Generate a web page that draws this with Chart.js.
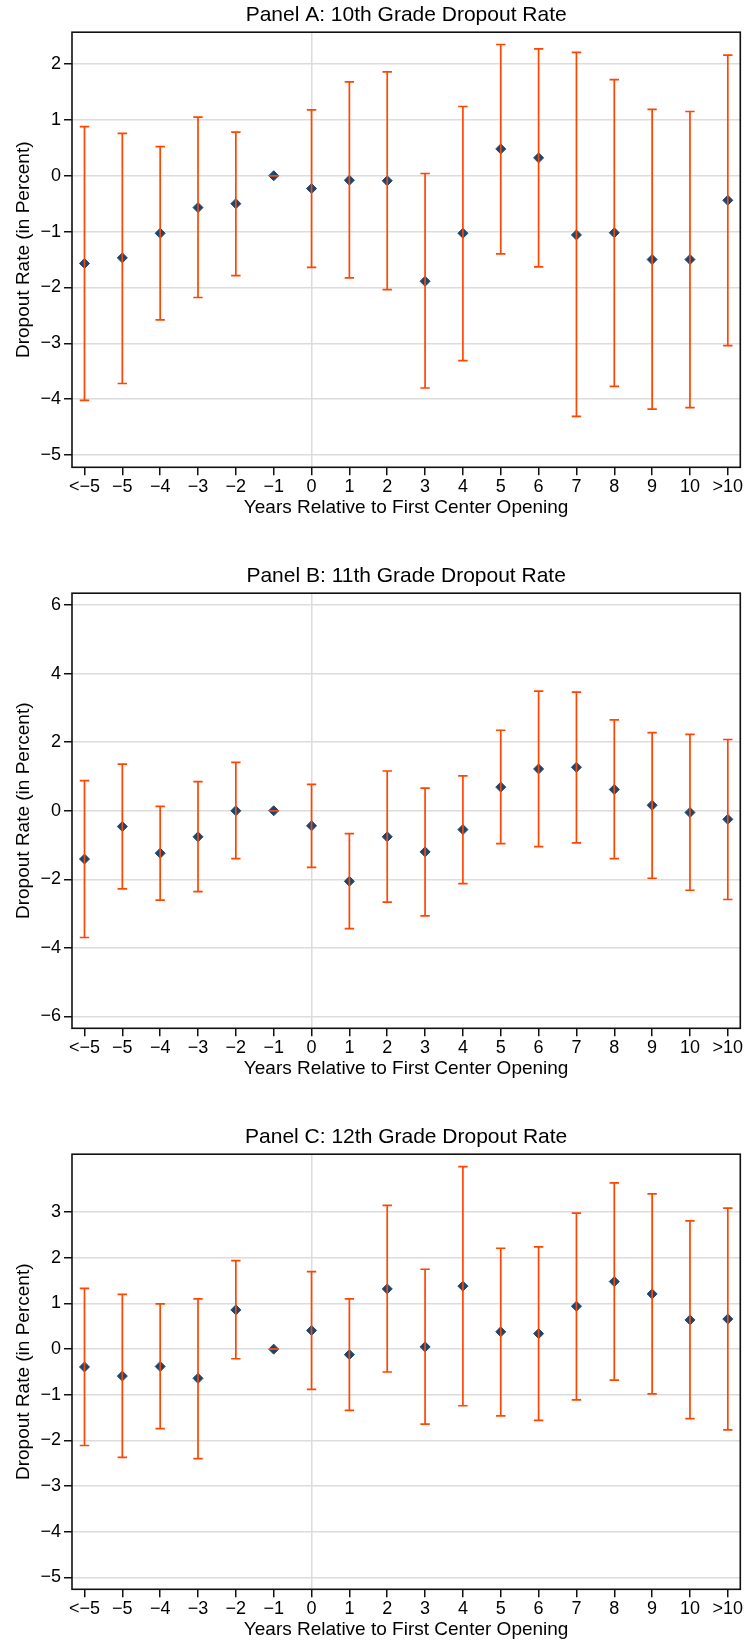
<!DOCTYPE html>
<html lang="en">
<head>
  <meta charset="UTF-8">
  <title>Dropout Rate Event Study</title>
  <script src="https://cdn.jsdelivr.net/npm/chart.js"></script>
  <style>
    body { margin: 0; background: #fff; overflow: hidden; }
    .panel { position: absolute; left: 0; }
  </style>
</head>
<body>
  <div class="panel" style="top:0px"><canvas id="panelA" width="747" height="520"></canvas></div>
  <div class="panel" style="top:561px"><canvas id="panelB" width="747" height="520"></canvas></div>
  <div class="panel" style="top:1122px"><canvas id="panelC" width="747" height="520"></canvas></div>

  <script>
    // event time categories (x axis)
    const xLabels = ['<\u22125', '\u22125', '\u22124', '\u22123', '\u22122', '\u22121', '0', '1', '2', '3', '4', '5', '6', '7', '8', '9', '10', '>10'];

    // Panel A: 10th grade
    const tenthEst  = [-1.57, -1.47, -1.03, -0.57, -0.50, 0, -0.23, -0.08, -0.09, -1.89, -1.03, 0.48, 0.32, -1.06, -1.02, -1.50, -1.50, -0.44];
    const tenthLow  = [-4.02, -3.72, -2.58, -2.18, -1.79, 0, -1.64, -1.83, -2.04, -3.80, -3.31, -1.40, -1.63, -4.31, -3.77, -4.18, -4.15, -3.04];
    const tenthHigh = [0.88, 0.76, 0.52, 1.05, 0.78, 0, 1.18, 1.68, 1.86, 0.04, 1.24, 2.35, 2.27, 2.21, 1.72, 1.19, 1.15, 2.16];
    const tenthTicks = [-5, -4, -3, -2, -1, 0, 1, 2];

    // Panel B: 11th grade
    const eleventhEst  = [-1.41, -0.46, -1.24, -0.76, 0.00, 0, -0.44, -2.06, -0.76, -1.20, -0.55, 0.69, 1.22, 1.27, 0.62, 0.16, -0.05, -0.25];
    const eleventhLow  = [-3.70, -2.28, -2.61, -2.36, -1.40, 0, -1.65, -3.44, -2.67, -3.07, -2.13, -0.96, -1.05, -0.94, -1.40, -1.97, -2.32, -2.59];
    const eleventhHigh = [0.88, 1.36, 0.13, 0.85, 1.41, 0, 0.77, -0.67, 1.16, 0.66, 1.02, 2.35, 3.49, 3.46, 2.65, 2.28, 2.23, 2.08];
    const eleventhTicks = [-6, -4, -2, 0, 2, 4, 6];

    // Panel C: 12th grade
    const twelfthEst  = [-0.39, -0.59, -0.38, -0.64, 0.86, 0, 0.41, -0.12, 1.32, 0.05, 1.38, 0.38, 0.34, 0.94, 1.48, 1.21, 0.64, 0.66];
    const twelfthLow  = [-2.11, -2.37, -1.74, -2.40, -0.21, 0, -0.88, -1.34, -0.50, -1.64, -1.24, -1.46, -1.56, -1.11, -0.68, -0.98, -1.52, -1.77];
    const twelfthHigh = [1.33, 1.20, 0.99, 1.10, 1.94, 0, 1.70, 1.10, 3.15, 1.75, 4.00, 2.21, 2.24, 2.98, 3.64, 3.40, 2.81, 3.09];
    const twelfthTicks = [-5, -4, -3, -2, -1, 0, 1, 2, 3];

    const ORANGE = '#ff4500';
    const NAVY = '#1a476f';
    const GRID = '#dcdcdc';

    Chart.defaults.font.family = '"Liberation Sans", Arial, sans-serif';
    Chart.defaults.color = '#000';

    // full box around the plot region
    const boxPlugin = {
      id: 'plotBox',
      afterDraw(chart) {
        const a = chart.chartArea;
        const ctx = chart.ctx;
        ctx.save();
        ctx.strokeStyle = '#111';
        ctx.lineWidth = 1.6;
        ctx.strokeRect(a.left, a.top, a.right - a.left, a.bottom - a.top);
        ctx.restore();
      }
    };

    function makePanel(id, title, est, low, high, yMin, yMax, yTicks) {
      const bars = [];
      const caps = [];
      est.forEach((_, i) => {
        bars.push({ x: i, y: low[i] }, { x: i, y: high[i] }, { x: i, y: null });
        caps.push({ x: i, y: low[i] }, { x: i, y: high[i] });
      });
      const points = est.map((v, i) => ({ x: i, y: v }));

      new Chart(document.getElementById(id), {
        type: 'scatter',
        data: {
          datasets: [
            {
              type: 'line',
              data: bars,
              borderColor: ORANGE,
              borderWidth: 1.7,
              pointRadius: 0,
              spanGaps: false,
              order: 0
            },
            {
              data: caps,
              pointStyle: 'line',
              pointRadius: 4.7,
              borderColor: ORANGE,
              pointBorderWidth: 1.7,
              order: 1
            },
            {
              data: points,
              pointStyle: 'rectRot',
              pointRadius: 5,
              backgroundColor: NAVY,
              borderColor: NAVY,
              pointBorderWidth: 1,
              order: 2
            }
          ]
        },
        options: {
          responsive: false,
          animation: false,
          events: [],
          layout: { padding: { left: 0, right: 6.7, top: 0, bottom: 0 } },
          plugins: {
            legend: { display: false },
            tooltip: { enabled: false },
            title: {
              display: true,
              text: title,
              fullSize: false,
              color: '#000',
              font: { size: 21, weight: 'normal' },
              padding: { top: 3, bottom: 4 }
            }
          },
          scales: {
            x: {
              type: 'linear',
              min: -0.33,
              max: 17.33,
              afterBuildTicks: (scale) => {
                scale.ticks = xLabels.map((_, i) => ({ value: i }));
              },
              afterFit: (scale) => { scale.height = 52.7; },
              ticks: {
                autoSkip: false,
                maxRotation: 0,
                padding: 1,
                font: { size: 18 },
                color: '#000',
                callback: (value) => xLabels[Math.round(value)]
              },
              grid: {
                color: (ctx) => (ctx.tick && ctx.tick.value === 6 ? GRID : 'rgba(0,0,0,0)'),
                lineWidth: 1.5,
                tickColor: '#111',
                tickWidth: 1.5,
                tickLength: 8
              },
              border: { display: false },
              title: {
                display: true,
                text: 'Years Relative to First Center Opening',
                font: { size: 19 },
                color: '#000',
                padding: { top: 0, bottom: 0.5 }
              }
            },
            y: {
              min: yMin,
              max: yMax,
              afterBuildTicks: (scale) => {
                scale.ticks = yTicks.map(v => ({ value: v }));
              },
              afterFit: (scale) => { scale.width = 72; },
              ticks: {
                padding: 3,
                font: { size: 18 },
                color: '#000',
                callback: (value) => (value < 0 ? '\u2212' + Math.abs(value) : String(value))
              },
              grid: {
                color: GRID,
                lineWidth: 1.5,
                tickColor: '#111',
                tickWidth: 1.5,
                tickLength: 8
              },
              border: { display: false },
              title: {
                display: true,
                text: 'Dropout Rate (in Percent)',
                font: { size: 19 },
                color: '#000',
                padding: { top: 12, bottom: 0 }
              }
            }
          }
        },
        plugins: [boxPlugin]
      });
    }

    makePanel('panelA', 'Panel A: 10th Grade Dropout Rate', tenthEst, tenthLow, tenthHigh, -5.22, 2.57, tenthTicks);
    makePanel('panelB', 'Panel B: 11th Grade Dropout Rate', eleventhEst, eleventhLow, eleventhHigh, -6.35, 6.35, eleventhTicks);
    makePanel('panelC', 'Panel C: 12th Grade Dropout Rate', twelfthEst, twelfthLow, twelfthHigh, -5.26, 4.27, twelfthTicks);
  </script>
</body>
</html>
